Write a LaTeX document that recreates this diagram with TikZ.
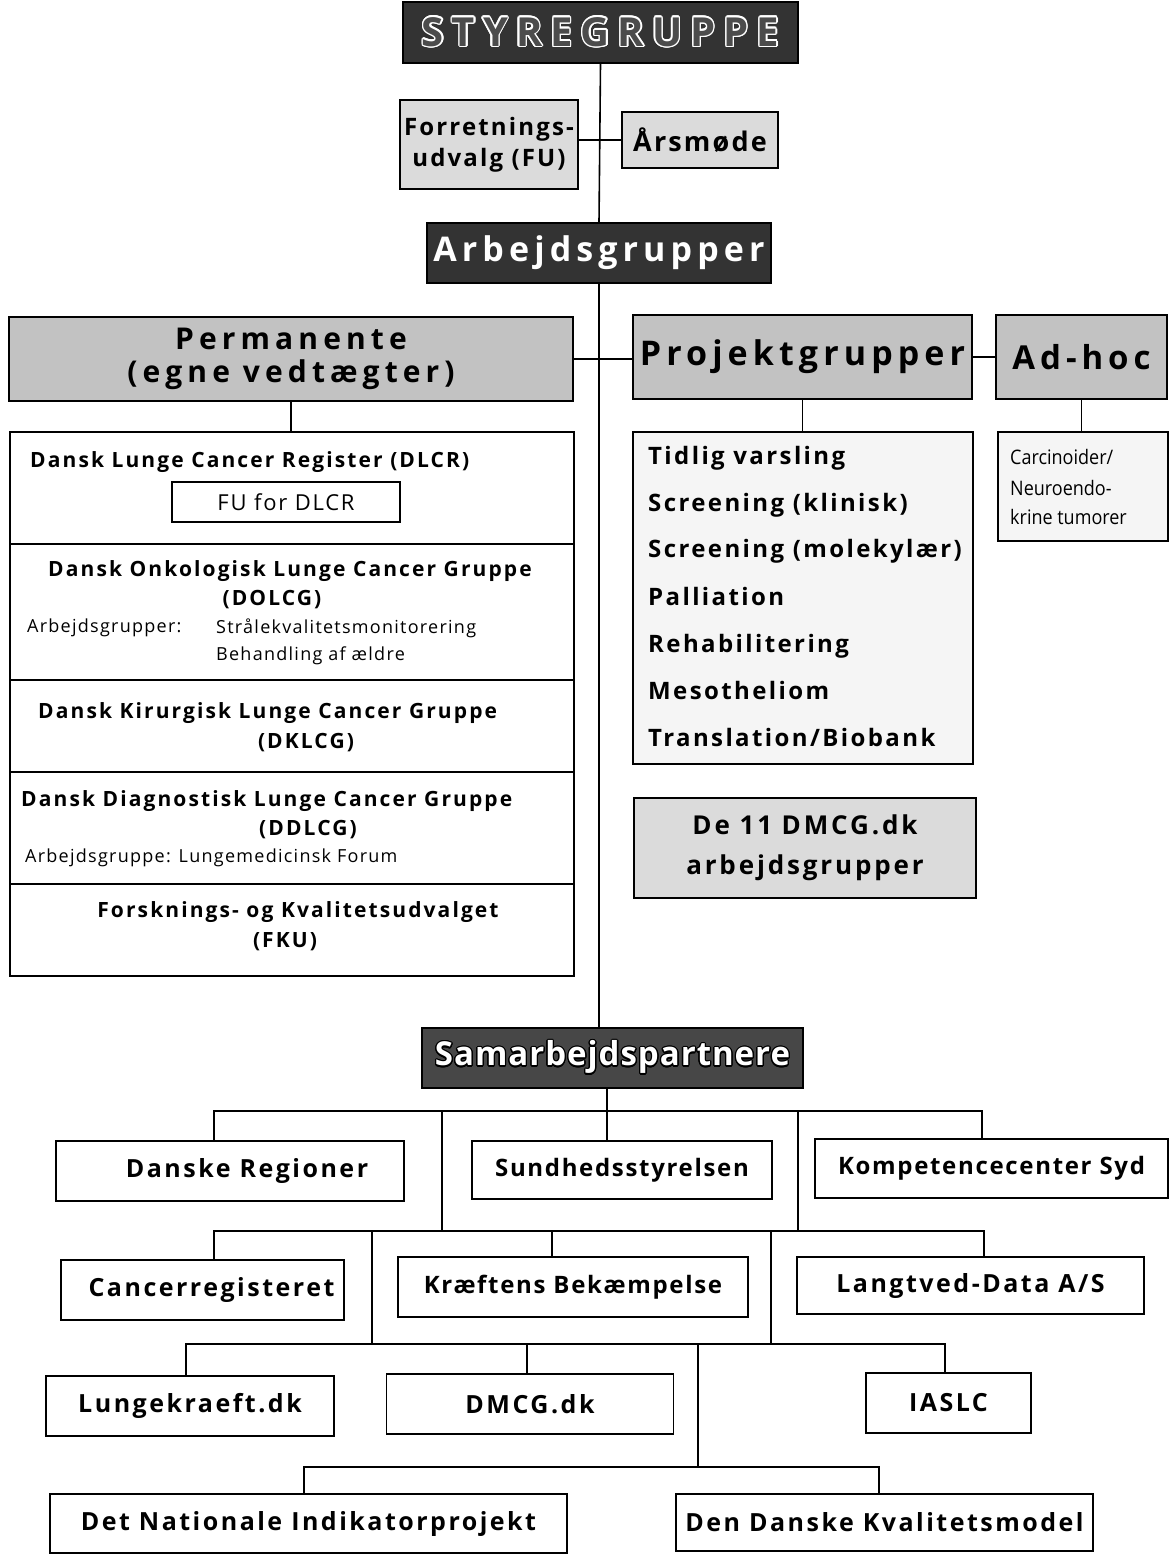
\documentclass[tikz,border=0pt]{standalone}
\usepackage{fontspec}
\setmainfont{Open Sans}
\newfontfamily\fsA[LetterSpace=3]{Open Sans}
\newfontfamily\fsSm[LetterSpace=7]{Open Sans}
\newfontfamily\fsT[LetterSpace=9]{Open Sans}
\newfontfamily\fsL[LetterSpace=10]{Open Sans}
\newfontfamily\fsM[LetterSpace=8]{Open Sans}
\newfontfamily\fsN[LetterSpace=11]{Open Sans}
\newfontfamily\fsW[LetterSpace=15]{Open Sans}
\newfontfamily\fsP[LetterSpace=17]{Open Sans}
\newfontfamily\fsS[LetterSpace=20]{Open Sans}
\usepackage[copies]{contour}
\contourlength{1.3pt}
\newcommand\fsz[1]{\fontsize{#1}{#1}\selectfont}
\begin{document}
\begin{tikzpicture}[x=1pt,y=-1pt,
  bx/.style={draw, line width=1.6pt, inner sep=0pt, rectangle, align=center},
  dk/.style={bx, fill=black!80, text=white},
  lt/.style={bx, fill=black!24},
  lt2/.style={bx, fill=black!14},
  wt/.style={bx, fill=white},
  wt2/.style={bx, fill=black!4},
  ln/.style={line width=1.6pt},
  tx/.style={inner sep=0pt, font=\fsL\bfseries\fsz{21}},
  txr/.style={inner sep=0pt, font=\fsSm\fsz{18}},
  pl/.style={inner sep=0pt, anchor=west, text height=17pt, text depth=5pt, font=\fsL\bfseries\fsz{24}},
  pb/.style={wt, font=\fsL\bfseries\fsz{25}},
  pbn/.style={wt, font=\fsSm\bfseries\fsz{24}},
]
\useasboundingbox[fill=white] (0,0) rectangle (1170,1555);

% top
\node[dk, minimum width=395, minimum height=61, font=\fsS\bfseries\fsz{40}] (sty) at (600.5,32.5) {\contour{white}{\textcolor{black!70}{STYREGRUPPE}}};
\node[lt2, minimum width=178, minimum height=89, font=\fsT\bfseries\fontsize{24}{31}\selectfont, align=center] (fu) at (489,144.5) {Forretnings-\\udvalg (FU)};
\node[lt2, minimum width=156, minimum height=56, font=\fsM\bfseries\fsz{27}] (aars) at (700,140) {Årsmøde};
\node[dk, minimum width=344, minimum height=60, font=\fsW\bfseries\fsz{34}] (arb) at (599,253) {Arbejdsgrupper};

% second level
\node[lt, minimum width=564, minimum height=84, font=\fsP\bfseries\fontsize{30}{33}\selectfont, align=center] (perm) at (291,359) {Permanente\\(egne vedtægter)};
\node[lt, minimum width=339, minimum height=84, font=\fsW\bfseries\fsz{34}] (proj) at (802.5,357) {Projektgrupper};
\node[lt, minimum width=171, minimum height=84, font=\fsW\bfseries\fsz{33}] (adhoc) at (1081.5,357) {Ad-hoc};

% permanent groups
\node[wt, minimum width=564, minimum height=112] (dlcr) at (292,488) {};
\node[wt, minimum width=564, minimum height=136] (dolcg) at (292,612) {};
\node[wt, minimum width=564, minimum height=92] (dklcg) at (292,726) {};
\node[wt, minimum width=564, minimum height=112] (ddlcg) at (292,828) {};
\node[wt, minimum width=564, minimum height=92] (fku) at (292,930) {};
\node[bx, line width=1.2pt, minimum width=228, minimum height=40, font=\fsM\fsz{22}] (fudlcr) at (286,502) {FU for DLCR};

\node[tx, anchor=west] (t1) at (30,462) {Dansk Lunge Cancer Register (DLCR)};
\node[tx] (t2) at (290,571) {Dansk Onkologisk Lunge Cancer Gruppe};
\node[tx] (t3) at (272,600) {(DOLCG)};
\node[txr, anchor=west] (t4) at (27,628) {Arbejdsgrupper:};
\node[txr, anchor=west] (t5) at (216,628) {Strålekvalitetsmonitorering};
\node[txr, anchor=west] (t6) at (216,656) {Behandling af ældre};
\node[tx, anchor=west] (t7) at (38,713) {Dansk Kirurgisk Lunge Cancer Gruppe};
\node[tx] (t8) at (306,743) {(DKLCG)};
\node[tx, anchor=west] (t9) at (21,801) {Dansk Diagnostisk Lunge Cancer Gruppe};
\node[tx] (t10) at (308,830) {(DDLCG)};
\node[txr, anchor=west] (t11) at (25,858) {Arbejdsgruppe: Lungemedicinsk Forum};
\node[tx] (t12) at (298,912) {Forsknings- og Kvalitetsudvalget};
\node[tx] (t13) at (285,942) {(FKU)};

% project groups
\node[wt2, minimum width=340, minimum height=332] (plist) at (803,598) {};
\node[pl] (p1) at (648,458) {Tidlig varsling};
\node[pl] (p2) at (648,505) {Screening (klinisk)};
\node[pl] (p3) at (648,551) {Screening (molekylær)};
\node[pl] (p4) at (648,599) {Palliation};
\node[pl] (p5) at (648,646) {Rehabilitering};
\node[pl] (p6) at (648,693) {Mesotheliom};
\node[pl] (p7) at (648,740) {Translation/Biobank};

\node[wt2, minimum width=170, minimum height=109] (adlist) at (1083,486.5) {};
\node[inner sep=0pt, anchor=west, font=\fsz{20}] (a1) at (1010,457) {\scalebox{0.9}[1]{Carcinoider/}};
\node[inner sep=0pt, anchor=west, font=\fsz{20}] (a2) at (1010,488) {\scalebox{0.9}[1]{Neuroendo-}};
\node[inner sep=0pt, anchor=west, font=\fsz{20}] (a3) at (1010,517) {\scalebox{0.9}[1]{krine tumorer}};

\node[lt2, minimum width=342, minimum height=100, font=\fsN\bfseries\fontsize{26}{40}\selectfont, align=center] (de11) at (805,848) {De 11 DMCG.dk\\arbejdsgrupper};

% partners
\node[dk, fill=black!72, minimum width=381, minimum height=60, font=\fsA\bfseries\fsz{33}] (sam) at (612.5,1058) {\contour{black}{Samarbejdspartnere}};

\node[pb, minimum width=348, minimum height=60] (danske) at (230,1171) {\hspace*{34pt}Danske Regioner};
\node[pbn, minimum width=300, minimum height=58] (sund) at (622,1170) {Sundhedsstyrelsen};
\node[pbn, minimum width=353, minimum height=59] (komp) at (991.5,1168.5) {Kompetencecenter Syd};
\node[pb, minimum width=283, minimum height=60] (cancer) at (202.5,1290) {\hspace*{18pt}Cancerregisteret};
\node[pbn, minimum width=350, minimum height=60] (kraef) at (573,1287) {Kræftens Bekæmpelse};
\node[pb, minimum width=347, minimum height=57] (lang) at (970.5,1285.5) {Langtved-Data A/S};
\node[pb, minimum width=288, minimum height=60] (lunge) at (190,1406) {Lungekraeft.dk};
\node[pb, minimum width=287, minimum height=60] (dmcg) at (530,1404) {DMCG.dk};
\node[pb, minimum width=165, minimum height=60] (iaslc) at (948.5,1403) {IASLC};
\node[pb, minimum width=517, minimum height=59] (detnat) at (308.5,1523.5) {Det Nationale Indikatorprojekt};
\node[pb, minimum width=417, minimum height=57] (dendan) at (884.5,1522.5) {Den Danske Kvalitetsmodel};

% connectors top
\draw[ln] (sty.south) -- (arb.north);
\draw[ln] (aars.west) -- (aars.west -| fu.east);
\draw[ln] (arb.south) -- (arb.south |- sam.north);
\draw[ln] (perm.east) -- (perm.east -| proj.west);
\draw[ln] (proj.east |- adhoc.west) -- (adhoc.west);
\draw[ln] (perm.south) -- (perm.south |- dlcr.north);
\draw[ln] (proj.south) -- (proj.south |- plist.north);
\draw[ln] (adhoc.south) -- (adhoc.south |- adlist.north);

% partner tree
\coordinate (r1a) at (214,1111);
\coordinate (r1m) at (607,1111);
\coordinate (r1b) at (982,1111);
\coordinate (r1c) at (442,1111);
\coordinate (r1d) at (798,1111);
\coordinate (r2a) at (214,1231);
\coordinate (r2m) at (552,1231);
\coordinate (r2b) at (984,1231);
\coordinate (r2c) at (372,1231);
\coordinate (r2d) at (771,1231);
\coordinate (r3a) at (186,1344);
\coordinate (r3m) at (527,1344);
\coordinate (r3b) at (945,1344);
\coordinate (r3c) at (698,1344);
\coordinate (r4a) at (304,1467);
\coordinate (r4b) at (879,1467);

\draw[ln] (r1m |- sam.south) -- (r1m |- sund.north);
\draw[ln] (r1a |- danske.north) -- (r1a) -- (r1b) -- (r1b |- komp.north);
\draw[ln] (r1c) -- (r1c |- r2a);
\draw[ln] (r1d) -- (r1d |- r2a);
\draw[ln] (r2a |- cancer.north) -- (r2a) -- (r2b) -- (r2b |- lang.north);
\draw[ln] (r2m) -- (r2m |- kraef.north);
\draw[ln] (r2c) -- (r2c |- r3a);
\draw[ln] (r2d) -- (r2d |- r3a);
\draw[ln] (r3a |- lunge.north) -- (r3a) -- (r3b) -- (r3b |- iaslc.north);
\draw[ln] (r3m) -- (r3m |- dmcg.north);
\draw[ln] (r3c) -- (r3c |- r4a);
\draw[ln] (r4a |- detnat.north) -- (r4a) -- (r4b) -- (r4b |- dendan.north);
\end{tikzpicture}
\end{document}
